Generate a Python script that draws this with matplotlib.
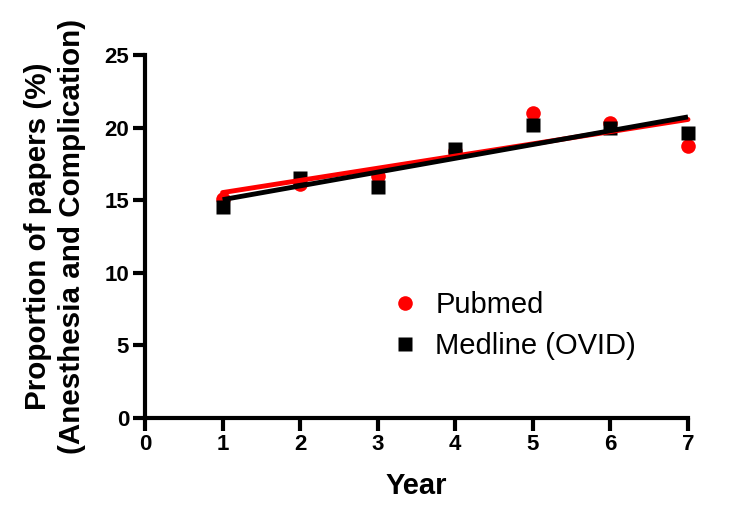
import numpy as np
import matplotlib
matplotlib.use("Agg")
import matplotlib.pyplot as plt

years = [1, 2, 3, 4, 5, 6, 7]
pubmed = [15.1, 16.1, 16.7, 18.4, 21.0, 20.3, 18.7]
medline = [14.5, 16.5, 15.9, 18.5, 20.2, 20.0, 19.6]
x_ticks = [0, 1, 2, 3, 4, 5, 6, 7]
y_ticks = [0, 5, 10, 15, 20, 25]

plt.rcParams['font.family'] = ['Liberation Sans', 'DejaVu Sans']

fig = plt.figure(figsize=(7.4, 5.28), dpi=100)
ax = fig.add_axes([145/740, 1-418/528, (688-145)/740, (418-55)/528])

ax.plot(years, pubmed, 'o', color='#ff0000', ms=10.5, mec='none', zorder=3, label='Pubmed', clip_on=False)
ax.plot(years, medline, 's', color='black', ms=10, mec='none', zorder=4, label='Medline (OVID)', clip_on=False)

xs = np.array([years[0], years[-1]], dtype=float)
pr = np.polyfit(years, pubmed, 1)
mr = np.polyfit(years, medline, 1)
ax.plot(xs, np.polyval(pr, xs), color='#ff0000', lw=3.5, solid_capstyle='round', zorder=5, clip_on=False)
ax.plot(xs, np.polyval(mr, xs), color='black', lw=3.5, solid_capstyle='butt', zorder=6, clip_on=False)

ax.set_xlim(0, 7)
ax.set_ylim(0, 25)
ax.set_xticks(x_ticks)
ax.set_yticks(y_ticks)
for s in ['top', 'right']:
    ax.spines[s].set_visible(False)
for s in ['left', 'bottom']:
    ax.spines[s].set_linewidth(3)
    ax.spines[s].set_capstyle('projecting')
ax.tick_params(width=3, length=9, labelsize=16, pad=2.5)
for lab in ax.get_xticklabels() + ax.get_yticklabels():
    lab.set_fontweight('bold')

ax.set_xlabel('Year', fontsize=21, fontweight='bold', labelpad=12)
ax.set_ylabel('Proportion of papers (%)\n(Anesthesia and Complication)', fontsize=21.3,
              fontweight='bold', labelpad=13, linespacing=1.3)

leg = ax.legend(loc='upper left', bbox_to_anchor=(390/740, 1-291/528), bbox_transform=fig.transFigure,
                frameon=False, fontsize=21, handlelength=1.0, handletextpad=0.55,
                labelspacing=0.45, borderaxespad=0, borderpad=0)

fig.savefig('out.png', dpi=100)
